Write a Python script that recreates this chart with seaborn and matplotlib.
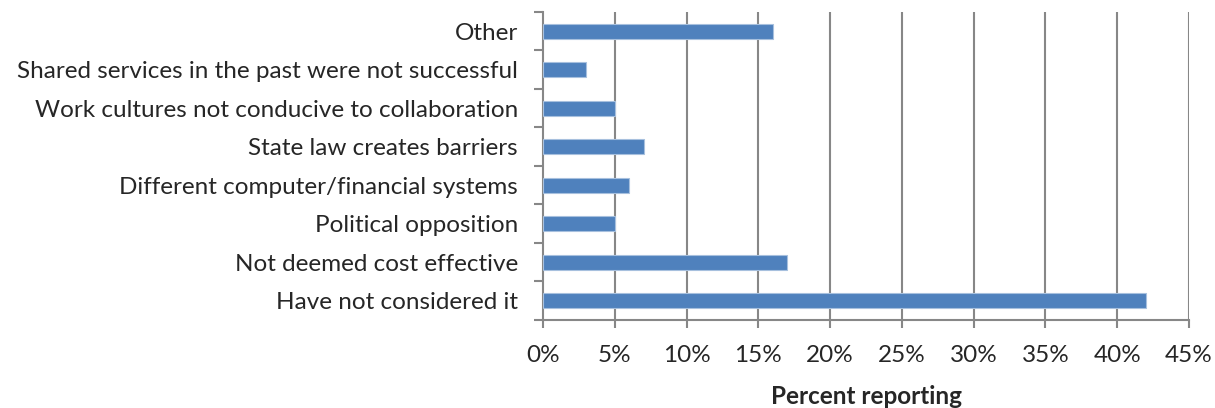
import matplotlib
matplotlib.use('Agg')
import seaborn as sns
import matplotlib.pyplot as plt
import pandas as pd
from matplotlib.ticker import PercentFormatter

categories = [
    "Other",
    "Shared services in the past were not successful",
    "Work cultures not conducive to collaboration",
    "State law creates barriers",
    "Different computer/financial systems",
    "Political opposition",
    "Not deemed cost effective",
    "Have not considered it",
]
percent = [16, 3, 5, 7, 6, 5, 17, 42]
x_ticks = [0, 5, 10, 15, 20, 25, 30, 35, 40, 45]

df = pd.DataFrame({"reason": categories, "pct": percent})

sns.set_style("white")
plt.rcParams['font.family'] = ['Lato', 'DejaVu Sans']

fig = plt.figure(figsize=(12.15, 4.08), dpi=100)
ax = fig.add_axes([0.447, 0.2157, 0.5316, 0.7549])
sns.barplot(data=df, x="pct", y="reason", ax=ax, color="#4F81BD", saturation=1,
            width=0.4, edgecolor="#A7C0DE", linewidth=0.8, zorder=3)

grid_c = "#878787"
ax.set_xlim(0, 45)
ax.set_ylim(7.5, -0.5)
ax.set_xticks(x_ticks)
ax.xaxis.set_major_formatter(PercentFormatter(decimals=0))
for v in x_ticks[1:]:
    ax.axvline(v, color=grid_c, lw=1.5, zorder=1)

# ticks sit between categories, labels in the middle
ax.set_yticks([i - 0.5 for i in range(len(categories) + 1)], minor=False)
ax.set_yticklabels([])
ax.set_yticks(range(len(categories)), minor=True)
ax.set_yticklabels(categories, minor=True)
ax.tick_params(axis="y", which="major", length=6.5, width=1.5, color=grid_c, direction="out", left=True)
ax.tick_params(axis="y", which="minor", length=0, pad=18, labelsize=17.5)
ax.tick_params(axis="x", length=6, width=1.5, color=grid_c, direction="out", bottom=True,
               pad=12, labelsize=17.5)

for s in ["top", "right"]:
    ax.spines[s].set_visible(False)
for s in ["left", "bottom"]:
    ax.spines[s].set_color(grid_c)
    ax.spines[s].set_linewidth(1.5)

ax.set_ylabel("")
ax.set_xlabel("Percent reporting", fontsize=17.5, fontweight="bold", labelpad=14)

plt.savefig("out.png", dpi=100)
